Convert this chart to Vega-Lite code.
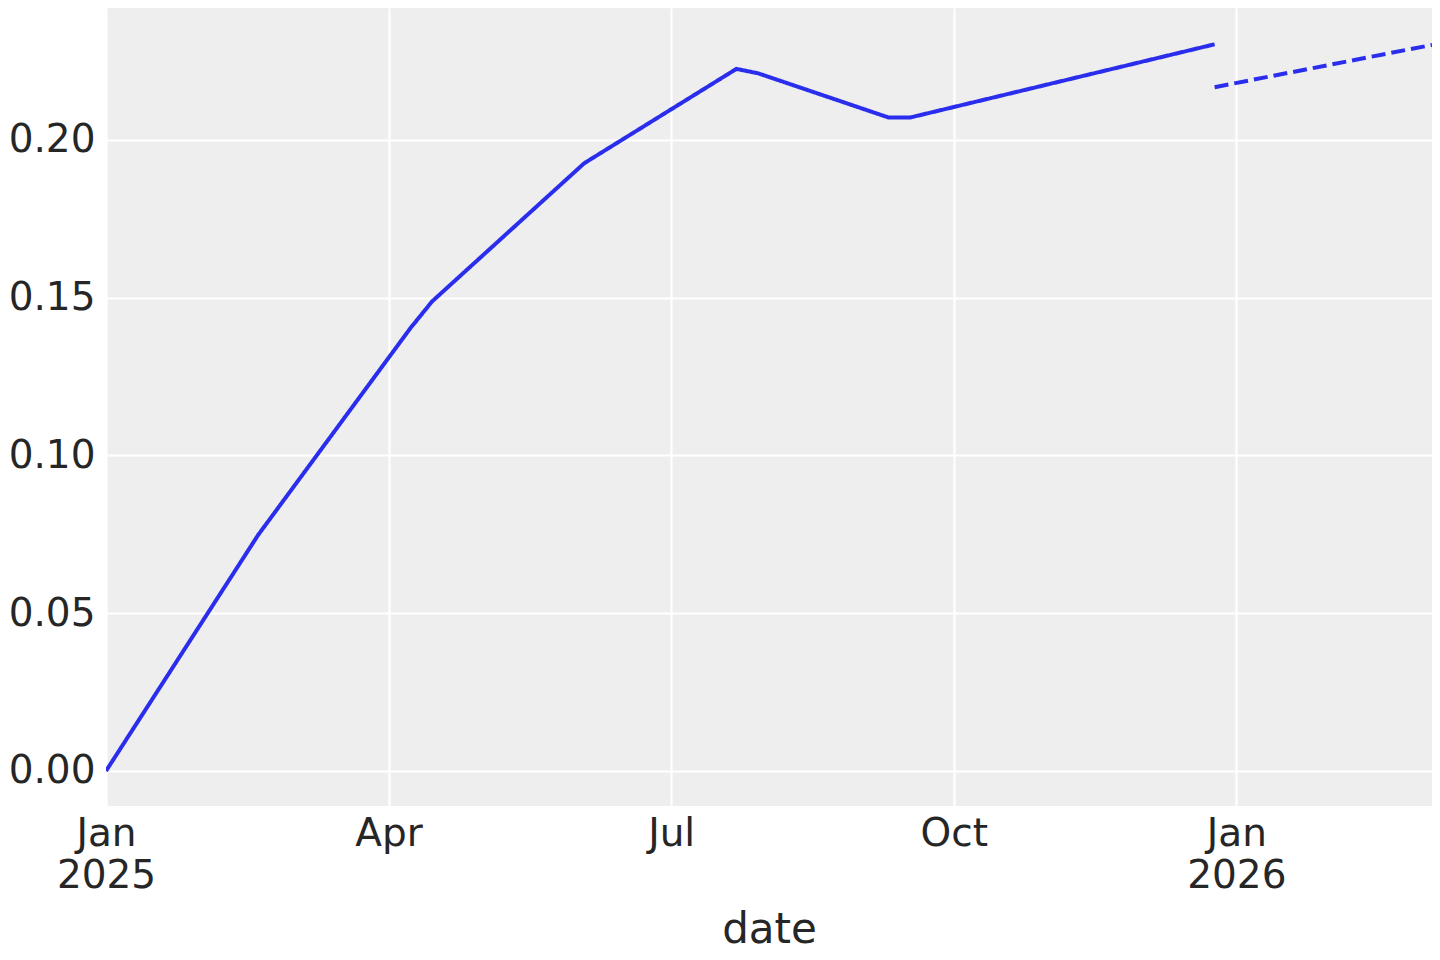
{
  "$schema": "https://vega.github.io/schema/vega-lite/v6.json",
  "autosize": {"type": "none"},
  "padding": {"left": 106, "top": 8, "right": 8, "bottom": 154},
  "width": 1326,
  "height": 798,
  "background": "white",
  "config": {
    "view": {"fill": "#eeeeee", "stroke": null},
    "font": "DejaVu Sans"
  },
  "data": {
    "values": [
      {"date": "2025-01-01", "value": 0.0, "series": "observed"},
      {"date": "2025-02-19", "value": 0.0748, "series": "observed"},
      {"date": "2025-04-09", "value": 0.1403, "series": "observed"},
      {"date": "2025-04-16", "value": 0.1488, "series": "observed"},
      {"date": "2025-06-04", "value": 0.1926, "series": "observed"},
      {"date": "2025-07-23", "value": 0.2225, "series": "observed"},
      {"date": "2025-07-30", "value": 0.2211, "series": "observed"},
      {"date": "2025-09-10", "value": 0.2071, "series": "observed"},
      {"date": "2025-09-17", "value": 0.2071, "series": "observed"},
      {"date": "2025-12-24", "value": 0.2303, "series": "observed"},
      {"date": "2025-12-24", "value": 0.2167, "series": "forecast"},
      {"date": "2026-03-04", "value": 0.2301, "series": "forecast"}
    ]
  },
  "mark": {"type": "line", "color": "#2a2eec", "strokeWidth": 4, "clip": true},
  "encoding": {
    "x": {
      "field": "date",
      "type": "temporal",
      "title": "date",
      "scale": {"type": "utc", "domain": [{"year": 2025, "month": 1, "date": 1, "utc": true}, {"year": 2026, "month": 3, "date": 4, "utc": true}], "nice": false},
      "axis": {
        "values": [
          {"year": 2025, "month": 1, "date": 1, "utc": true},
          {"year": 2025, "month": 4, "date": 2, "utc": true},
          {"year": 2025, "month": 7, "date": 2, "utc": true},
          {"year": 2025, "month": 10, "date": 1, "utc": true},
          {"year": 2025, "month": 12, "date": 31, "utc": true}
        ],
        "labelExpr": "utcmonth(datum.value + 345600000) == 0 ? [utcFormat(datum.value + 345600000, '%b'), utcFormat(datum.value + 345600000, '%Y')] : utcFormat(datum.value + 345600000, '%b')",
        "grid": true,
        "gridColor": "white",
        "gridWidth": 2.2,
        "domain": false,
        "ticks": false,
        "labelFontSize": 39,
        "labelColor": "#262626",
        "labelPadding": 8,
        "labelLineHeight": 42,
        "labelFlush": false,
        "labelOverlap": false,
        "labelBound": false,
        "titleFontSize": 42,
        "titleFontWeight": "normal",
        "titleColor": "#262626",
        "titlePadding": 14
      }
    },
    "y": {
      "field": "value",
      "type": "quantitative",
      "title": null,
      "scale": {"domain": [-0.0111, 0.2418], "nice": false, "zero": false},
      "axis": {
        "values": [0, 0.05, 0.1, 0.15, 0.2],
        "format": ".2f",
        "grid": true,
        "gridColor": "white",
        "gridWidth": 2.2,
        "domain": false,
        "ticks": false,
        "labelFontSize": 39,
        "labelColor": "#262626",
        "labelPadding": 11,
        "labelFlush": false,
        "labelOverlap": false
      }
    },
    "detail": {"field": "series"},
    "strokeDash": {
      "field": "series",
      "type": "nominal",
      "scale": {"domain": ["observed", "forecast"], "range": [[1, 0], [14, 6]]},
      "legend": null
    }
  }
}
